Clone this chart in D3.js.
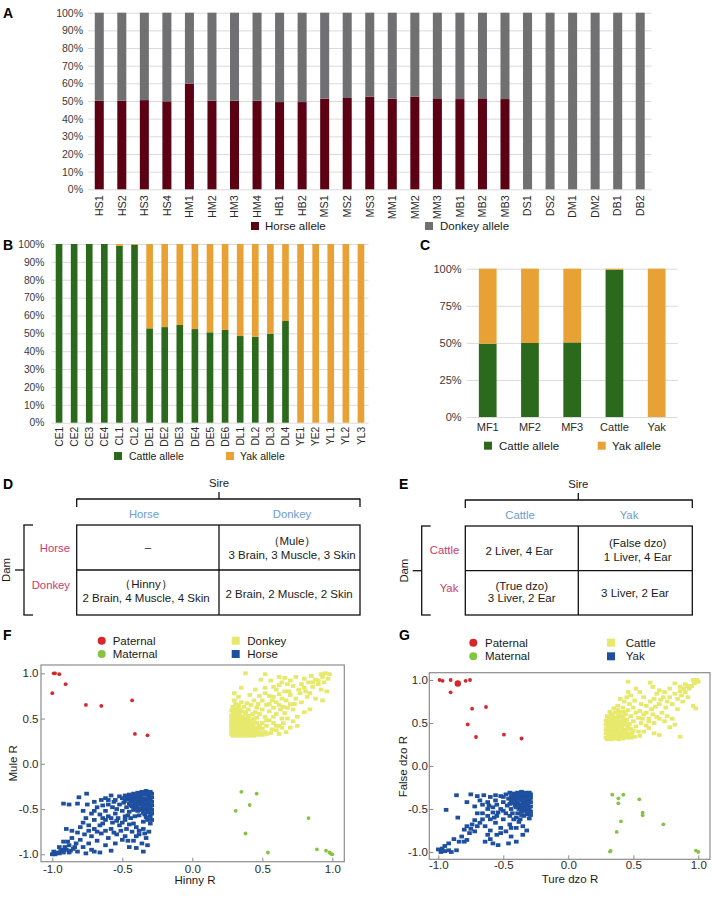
<!DOCTYPE html>
<html><head><meta charset="utf-8">
<script src="https://cdn.jsdelivr.net/npm/d3@7"></script>
<style>body{margin:0;background:#fff}svg{display:block}</style>
</head><body><svg id="c" width="718" height="898"></svg>
<script>
// ---------- Panel A ----------
const catsA = ["HS1","HS2","HS3","HS4","HM1","HM2","HM3","HM4","HB1","HB2","MS1","MS2","MS3","MM1","MM2","MM3","MB1","MB2","MB3","DS1","DS2","DM1","DM2","DB1","DB2"];
const horseA = [50.2,50.2,50.5,49.8,59.8,50.2,50.2,50.2,49.4,49.4,51.3,51.7,52.4,51.3,52.4,51.5,51.1,51.5,51.1,0,0,0,0,0,0];
const donkeyA = [49.8,49.8,49.5,50.2,40.2,49.8,49.8,49.8,50.6,50.6,48.7,48.3,47.6,48.7,47.6,48.5,48.9,48.5,48.9,100,100,100,100,100,100];
const ticksA = [0,10,20,30,40,50,60,70,80,90,100];
// ---------- Panel B ----------
const catsB = ["CE1","CE2","CE3","CE4","CL1","CL2","DE1","DE2","DE3","DE4","DE5","DE6","DL1","DL2","DL3","DL4","YE1","YE2","YL1","YL2","YL3"];
const cattleB = [100,100,100,100,99,99.5,52.8,53.5,54.7,52.4,50.6,51.9,48.5,48.1,49.8,56.9,0,0,0,0,0];
const yakB = [0,0,0,0,1,0.5,47.2,46.5,45.3,47.6,49.4,48.1,51.5,51.9,50.2,43.1,100,100,100,100,100];
const ticksB = [0,10,20,30,40,50,60,70,80,90,100];
// ---------- Panel C ----------
const catsC = ["MF1","MF2","MF3","Cattle","Yak"];
const cattleC = [49.4,49.9,50.3,99.3,0];
const yakC = [50.6,50.1,49.7,0.7,100];
const ticksC = [0,25,50,75,100];
// ---------- Panel F ----------
const fPaternal = [[-0.99,1.0],[-0.98,1.0],[-0.95,0.99],[-0.905,0.88],[-1.0,0.78],[-0.76,0.65],[-0.65,0.64],[-0.43,0.70],[-0.41,0.33],[-0.32,0.315]];
const fMaternal = [[0.35,-0.31],[0.46,-0.33],[0.31,-0.52],[0.41,-0.455],[0.38,-0.77],[0.83,-0.60],[0.54,-0.98],[0.89,-0.945],[0.955,-0.96],[0.98,-0.98],[1.0,-1.0],[0.99,-0.995]];
const fDonkey = [[0.29,0.31],[0.32,0.31],[0.35,0.31],[0.38,0.31],[0.41,0.31],[0.44,0.31],[0.47,0.32],[0.50,0.32],[0.53,0.33],
[0.30,0.35],[0.33,0.34],[0.36,0.35],[0.39,0.34],[0.42,0.35],[0.45,0.35],[0.48,0.36],
[0.29,0.39],[0.32,0.38],[0.35,0.39],[0.38,0.38],[0.41,0.39],[0.44,0.40],[0.47,0.40],
[0.30,0.43],[0.33,0.42],[0.36,0.43],[0.39,0.43],[0.42,0.44],[0.46,0.45],
[0.29,0.47],[0.32,0.47],[0.35,0.48],[0.38,0.47],[0.41,0.48],[0.44,0.50],
[0.30,0.51],[0.33,0.52],[0.36,0.52],[0.40,0.53],[0.43,0.55],
[0.29,0.56],[0.32,0.57],[0.35,0.58],[0.38,0.57],
[0.30,0.61],[0.33,0.62],[0.37,0.63],[0.31,0.66],[0.35,0.68],
[0.28,0.33],[0.31,0.33],[0.34,0.33],[0.37,0.33],[0.40,0.33],[0.43,0.33],[0.46,0.34],[0.49,0.34],[0.52,0.35],
[0.28,0.37],[0.31,0.37],[0.34,0.37],[0.37,0.37],[0.40,0.37],[0.43,0.37],[0.46,0.38],[0.50,0.39],
[0.28,0.41],[0.31,0.41],[0.34,0.41],[0.37,0.41],[0.40,0.41],[0.43,0.42],[0.48,0.42],
[0.28,0.45],[0.31,0.45],[0.34,0.45],[0.37,0.45],[0.40,0.45],[0.44,0.46],
[0.28,0.49],[0.31,0.49],[0.34,0.50],[0.37,0.50],[0.40,0.50],[0.46,0.51],
[0.28,0.53],[0.31,0.54],[0.34,0.54],[0.38,0.55],[0.45,0.57],
[0.28,0.59],[0.31,0.59],[0.34,0.60],[0.40,0.60],[0.29,0.63],[0.33,0.65],[0.39,0.67],[0.30,0.70],[0.33,0.74],[0.30,0.78],
[0.48,0.55],[0.50,0.60],[0.46,0.62],[0.42,0.65],[0.52,0.52],[0.55,0.48],[0.58,0.45],[0.53,0.42],[0.57,0.38],[0.60,0.37],[0.62,0.42],[0.65,0.45],[0.68,0.50],[0.72,0.47],[0.75,0.52],[0.80,0.57],[0.84,0.60],[0.70,0.40],
[0.55,0.58],[0.58,0.62],[0.60,0.55],[0.63,0.60],[0.55,0.66],[0.60,0.68],[0.65,0.63],[0.67,0.70],[0.70,0.66],[0.72,0.60],[0.50,0.70],[0.48,0.75],[0.52,0.78],[0.58,0.74],[0.62,0.77],[0.66,0.80],[0.70,0.76],[0.74,0.72],[0.78,0.68],[0.82,0.74],[0.76,0.82],[0.72,0.86],[0.68,0.88],[0.64,0.90],[0.58,0.85],[0.45,0.82],[0.41,0.76],[0.35,0.84],
[0.44,0.70],[0.47,0.66],[0.53,0.65],[0.57,0.70],[0.62,0.65],[0.68,0.62],[0.73,0.66],[0.64,0.72],[0.69,0.80],[0.77,0.78],[0.81,0.80],[0.86,0.90],[0.90,0.92],[0.93,0.96],[0.83,0.90],[0.78,0.88],[0.55,0.75],[0.60,0.82],[0.52,0.84],[0.56,0.92],[0.62,0.87],[0.50,0.45],[0.53,0.48],[0.58,0.52],[0.64,0.50],[0.66,0.56],[0.60,0.42],[0.64,0.40],
[0.38,1.0],[0.52,0.99],[0.49,0.93],[0.62,0.96],[0.66,0.95],[0.70,0.92],[0.74,0.96],[0.80,0.94],[0.85,0.97],[0.88,0.93],[0.92,0.99],[0.95,1.0],[0.98,0.99],[0.90,0.88],[0.94,0.90],[0.97,0.94],[0.86,0.85],[0.92,0.82],[0.96,0.80],[0.84,0.78],[0.88,0.72],[0.93,0.70],[0.80,0.84],
[0.62,0.33],[0.67,0.35],[0.56,0.34],[0.75,0.42]];
const fHorse = [[-0.30,-0.31],[-0.33,-0.30],[-0.36,-0.31],[-0.39,-0.32],[-0.42,-0.33],[-0.45,-0.34],[-0.48,-0.35],
[-0.31,-0.35],[-0.34,-0.34],[-0.37,-0.36],[-0.40,-0.36],[-0.43,-0.38],[-0.46,-0.39],[-0.50,-0.38],
[-0.30,-0.39],[-0.33,-0.40],[-0.36,-0.40],[-0.39,-0.41],[-0.42,-0.42],[-0.45,-0.44],[-0.49,-0.43],
[-0.31,-0.44],[-0.34,-0.45],[-0.37,-0.45],[-0.40,-0.46],[-0.43,-0.47],[-0.47,-0.48],[-0.52,-0.45],
[-0.30,-0.49],[-0.33,-0.50],[-0.36,-0.51],[-0.39,-0.52],[-0.42,-0.51],[-0.45,-0.53],[-0.50,-0.52],
[-0.31,-0.54],[-0.34,-0.56],[-0.38,-0.57],[-0.41,-0.58],[-0.44,-0.60],[-0.30,-0.58],[-0.32,-0.62],[-0.35,-0.64],[-0.30,-0.66],
[-0.29,-0.33],[-0.32,-0.33],[-0.35,-0.33],[-0.38,-0.34],[-0.41,-0.35],[-0.44,-0.36],[-0.47,-0.37],
[-0.29,-0.37],[-0.32,-0.38],[-0.35,-0.38],[-0.38,-0.38],[-0.41,-0.39],[-0.44,-0.41],[-0.48,-0.41],
[-0.29,-0.42],[-0.32,-0.42],[-0.35,-0.43],[-0.38,-0.43],[-0.41,-0.44],[-0.44,-0.46],
[-0.29,-0.46],[-0.32,-0.47],[-0.35,-0.48],[-0.38,-0.49],[-0.41,-0.49],
[-0.29,-0.51],[-0.32,-0.53],[-0.35,-0.54],[-0.29,-0.55],[-0.33,-0.59],[-0.29,-0.62],
[-0.55,-0.40],[-0.57,-0.48],[-0.55,-0.55],[-0.53,-0.60],[-0.48,-0.62],[-0.45,-0.67],[-0.40,-0.70],[-0.35,-0.72],[-0.31,-0.75],[-0.33,-0.82],[-0.38,-0.78],[-0.43,-0.75],[-0.47,-0.72],[-0.52,-0.68],[-0.57,-0.65],[-0.60,-0.58],[-0.62,-0.52],[-0.60,-0.45],[-0.65,-0.40],[-0.68,-0.48],[-0.66,-0.56],[-0.70,-0.62],[-0.64,-0.66],[-0.58,-0.72],[-0.54,-0.78],[-0.48,-0.80],[-0.42,-0.85],[-0.36,-0.88],[-0.45,-0.92],[-0.55,-0.88],[-0.60,-0.82],[-0.65,-0.77],[-0.70,-0.72],[-0.74,-0.68],[-0.76,-0.60],[-0.72,-0.55],[-0.78,-0.52],[-0.75,-0.45],[-0.82,-0.44],[-0.80,-0.70],[-0.77,-0.78],[-0.72,-0.80],[-0.68,-0.85],[-0.62,-0.90],[-0.58,-0.96],[-0.66,-0.98],[-0.72,-0.95],[-0.78,-0.92],[-0.83,-0.88],[-0.86,-0.82],[-0.82,-0.76],[-0.88,-0.90],[-0.90,-0.95],[-0.92,-0.86],[-0.85,-0.94],[-0.95,-0.92],[-0.97,-0.98],[-1.0,-1.0],[-0.98,-1.0],[-0.95,-0.99],[-0.92,-0.98],[-0.88,-0.98],[-0.82,-0.97],[-0.76,-0.99],[-0.70,-0.97],[-0.93,-0.95],[-0.89,-0.86],[-0.86,-0.74],[-0.90,-0.72],[-0.52,-0.36],[-0.58,-0.35],[-0.62,-0.38],[-0.70,-0.42],[-0.64,-0.60],[-0.51,-0.74],[-0.46,-0.85],[-0.40,-0.93],[-0.35,-0.97],[-0.32,-0.90],
[-0.48,-0.58],[-0.50,-0.65],[-0.54,-0.63],[-0.58,-0.60],[-0.62,-0.62],[-0.66,-0.68],[-0.68,-0.75],[-0.74,-0.74],[-0.78,-0.65],[-0.70,-0.52],[-0.64,-0.46],[-0.54,-0.50],[-0.46,-0.57],[-0.42,-0.66],[-0.38,-0.74],[-0.34,-0.77],[-0.40,-0.80],[-0.50,-0.84],[-0.56,-0.76],[-0.62,-0.74],[-0.84,-0.92],[-0.87,-0.96],[-0.91,-0.92],[-0.94,-0.96],[-0.99,-0.97],[-0.80,-0.84],[-0.74,-0.88],[-0.56,-0.42],[-0.60,-0.40],
[-0.755,-0.33],[-0.81,-0.37],[-0.92,-0.44],[-0.88,-0.45]];
// ---------- Panel G ----------
const gPaternal = [[-0.99,1.0],[-0.967,0.99],[-0.905,1.0],[-0.79,0.99],[-0.756,1.0],[-0.905,0.857],[-0.74,0.667],[-0.633,0.686],[-0.774,0.484],[-0.71,0.337],[-0.495,0.364],[-0.36,0.32]];
const gPaternalBig = [[-0.85,0.96]];
const gMaternal = [[0.338,-0.333],[0.385,-0.376],[0.423,-0.333],[0.385,-0.434],[0.546,-0.388],[0.572,-0.543],[0.572,-0.574],[0.405,-0.643],[0.372,-0.767],[0.731,-0.678],[0.326,-0.988],[0.32,-0.995],[0.982,-0.984],[1.0,-1.0]];
const gCattle = [[0.30,0.31],[0.33,0.31],[0.36,0.32],[0.39,0.31],[0.42,0.32],[0.45,0.33],[0.48,0.33],[0.51,0.34],
[0.31,0.35],[0.34,0.36],[0.37,0.35],[0.40,0.36],[0.43,0.37],[0.46,0.38],[0.49,0.38],
[0.30,0.40],[0.33,0.40],[0.36,0.41],[0.39,0.40],[0.42,0.42],[0.45,0.43],[0.48,0.43],
[0.31,0.45],[0.34,0.46],[0.37,0.45],[0.40,0.47],[0.43,0.48],[0.47,0.49],
[0.30,0.50],[0.33,0.51],[0.36,0.50],[0.39,0.52],[0.42,0.53],[0.45,0.54],[0.50,0.52],
[0.31,0.55],[0.35,0.56],[0.38,0.57],[0.41,0.58],[0.44,0.60],[0.48,0.58],
[0.33,0.60],[0.36,0.62],[0.40,0.63],[0.46,0.65],[0.52,0.62],
[0.29,0.33],[0.32,0.33],[0.35,0.34],[0.38,0.33],[0.41,0.34],[0.44,0.35],[0.47,0.36],
[0.29,0.38],[0.32,0.38],[0.35,0.38],[0.38,0.38],[0.41,0.39],[0.44,0.40],[0.50,0.41],
[0.29,0.43],[0.32,0.43],[0.35,0.43],[0.38,0.44],[0.41,0.45],[0.46,0.46],
[0.29,0.48],[0.32,0.48],[0.35,0.48],[0.38,0.49],[0.41,0.50],[0.44,0.51],
[0.29,0.53],[0.32,0.53],[0.35,0.53],[0.38,0.54],[0.42,0.56],[0.30,0.58],[0.34,0.58],[0.39,0.60],[0.43,0.63],[0.32,0.63],[0.38,0.65],[0.42,0.68],
[0.35,0.67],[0.38,0.70],[0.43,0.75],[0.45,0.80],[0.46,0.86],[0.40,0.78],[0.47,0.72],[0.50,0.68],[0.55,0.64],[0.58,0.60],[0.54,0.56],[0.56,0.50],[0.60,0.47],[0.62,0.44],[0.58,0.40],[0.66,0.38],[0.70,0.36],[0.55,0.35],[0.62,0.55],[0.65,0.60],[0.68,0.57],[0.72,0.62],[0.76,0.58],[0.80,0.55],[0.82,0.48],[0.86,0.34],[0.78,0.45],[0.60,0.70],[0.63,0.75],[0.66,0.78],[0.70,0.72],[0.73,0.80],[0.76,0.75],[0.80,0.72],[0.84,0.78],[0.87,0.82],[0.90,0.86],[0.92,0.80],[0.96,0.70],[0.98,0.67],[0.93,0.90],[0.95,0.93],[0.97,0.96],[0.99,1.0],[1.0,0.98],[0.96,1.0],[0.90,0.95],[0.86,0.92],[0.82,0.96],[0.78,0.90],[0.74,0.86],[0.70,0.88],[0.65,0.92],[0.63,0.97],[0.46,0.98],[0.68,0.84],[0.58,0.80],[0.55,0.86],[0.52,0.90],[0.75,0.68],[0.88,0.75],[0.84,0.66],
[0.52,0.46],[0.54,0.40],[0.57,0.55],[0.60,0.62],[0.64,0.66],[0.67,0.69],[0.71,0.77],[0.78,0.80],[0.82,0.84],[0.86,0.87],[0.89,0.90],[0.92,0.93],[0.56,0.72],[0.51,0.76],[0.48,0.82],[0.62,0.52],[0.66,0.50],[0.70,0.55],[0.74,0.52]];
const gYak = [[-0.30,-0.31],[-0.33,-0.31],[-0.36,-0.30],[-0.39,-0.31],[-0.42,-0.32],[-0.45,-0.31],[-0.48,-0.33],
[-0.31,-0.35],[-0.34,-0.36],[-0.37,-0.35],[-0.40,-0.36],[-0.43,-0.37],[-0.46,-0.38],[-0.50,-0.36],
[-0.30,-0.40],[-0.33,-0.41],[-0.36,-0.40],[-0.39,-0.42],[-0.42,-0.43],[-0.45,-0.44],
[-0.31,-0.45],[-0.34,-0.46],[-0.37,-0.47],[-0.40,-0.48],[-0.44,-0.50],
[-0.30,-0.50],[-0.33,-0.52],[-0.36,-0.53],[-0.39,-0.55],[-0.31,-0.56],[-0.34,-0.58],[-0.30,-0.61],
[-0.29,-0.33],[-0.32,-0.33],[-0.35,-0.33],[-0.38,-0.34],[-0.41,-0.34],[-0.44,-0.35],
[-0.29,-0.37],[-0.32,-0.38],[-0.35,-0.38],[-0.38,-0.38],[-0.41,-0.39],[-0.44,-0.40],
[-0.29,-0.42],[-0.32,-0.43],[-0.35,-0.43],[-0.38,-0.45],[-0.41,-0.46],
[-0.29,-0.47],[-0.32,-0.48],[-0.35,-0.49],[-0.38,-0.50],[-0.29,-0.53],[-0.32,-0.54],[-0.36,-0.57],[-0.29,-0.57],
[-0.52,-0.35],[-0.56,-0.34],[-0.60,-0.36],[-0.65,-0.34],[-0.70,-0.35],[-0.75,-0.33],[-0.86,-0.34],[-0.94,-0.51],[-0.85,-0.60],[-0.68,-0.40],[-0.62,-0.42],[-0.55,-0.45],[-0.52,-0.50],[-0.48,-0.55],[-0.45,-0.58],[-0.42,-0.62],[-0.38,-0.65],[-0.35,-0.70],[-0.40,-0.72],[-0.45,-0.68],[-0.50,-0.62],[-0.55,-0.58],[-0.58,-0.54],[-0.62,-0.50],[-0.66,-0.55],[-0.60,-0.62],[-0.56,-0.66],[-0.52,-0.72],[-0.48,-0.76],[-0.44,-0.82],[-0.40,-0.88],[-0.46,-0.90],[-0.55,-0.80],[-0.60,-0.75],[-0.64,-0.70],[-0.68,-0.66],[-0.72,-0.63],[-0.74,-0.68],[-0.78,-0.70],[-0.80,-0.74],[-0.76,-0.78],[-0.72,-0.76],[-0.82,-0.82],[-0.78,-0.86],[-0.84,-0.88],[-0.88,-0.85],[-0.92,-0.90],[-0.95,-0.93],[-0.97,-0.96],[-1.0,-0.97],[-0.98,-1.0],[-0.95,-0.99],[-0.92,-0.98],[-0.90,-1.0],[-0.86,-0.98],[-0.70,-0.55],[-0.64,-0.88],[-0.58,-0.90],[-0.35,-0.80],[-0.32,-0.75],[-0.72,-0.47],[-0.78,-0.42],[-0.58,-0.48],[-0.50,-0.42],[-0.56,-0.40],
[-0.47,-0.46],[-0.50,-0.52],[-0.54,-0.54],[-0.57,-0.60],[-0.62,-0.58],[-0.66,-0.62],[-0.70,-0.70],[-0.75,-0.73],[-0.66,-0.45],[-0.61,-0.46],[-0.43,-0.55],[-0.40,-0.60],[-0.37,-0.62],[-0.44,-0.72],[-0.52,-0.78],[-0.60,-0.85],[-0.54,-0.92],[-0.62,-0.80],[-0.80,-0.88]];
const scatterTicks = [-1,-0.5,0,0.5,1];

// ---------- colours ----------
const C = {horse:"#5c0014", donkey:"#707072", cattle:"#2b6a1c", yak:"#e8a134", grid:"#dadada",
  red:"#d8262b", green:"#84c441", yellow:"#e6e96c", blue:"#1f4f9f", head:"#6d9bd6", row:"#cc3a6c"};
const FONT = '"Liberation Sans", Arial, sans-serif';

const svg = d3.select("#c");
svg.append("rect").attr("width",718).attr("height",898).attr("fill","#fff");

function txt(g,x,y,s,o={}){
  return g.append("text").attr("x",x).attr("y",y).text(s)
    .attr("font-family",FONT).attr("font-size",o.fs||11.5).attr("fill",o.fill||"#1a1a1a")
    .attr("text-anchor",o.anchor||"start").attr("dy",o.dy==null?"0.35em":o.dy)
    .attr("font-weight",o.bold?"bold":"normal");
}
function letter(x,y,s){ txt(svg,x,y,s,{fs:14,bold:true,dy:0,fill:"#000"}); }

function bars(o){
  const g = svg.append("g");
  const x = d3.scaleBand().domain(o.cats).range([o.x0,o.x1]).paddingInner(o.pad).paddingOuter(o.pad/2);
  const y = d3.scaleLinear().domain([0,100]).range([o.yb,o.yt]);
  const ya = g.append("g").attr("transform",`translate(${o.x0},0)`)
    .call(d3.axisLeft(y).tickValues(o.ticks).tickFormat(d=>d+"%").tickSize(-(o.x1-o.x0)).tickPadding(o.tp));
  ya.select(".domain").remove();
  ya.attr("font-family",FONT).attr("font-size",o.fs);
  ya.selectAll("line").attr("stroke",C.grid);
  ya.selectAll("text").attr("fill","#3a3a3a");
  g.selectAll("rect.s1").data(o.cats).join("rect").attr("class","s1")
    .attr("x",d=>x(d)).attr("width",x.bandwidth())
    .attr("y",(d,i)=>y(o.s1[i])).attr("height",(d,i)=>y(0)-y(o.s1[i])).attr("fill",o.c1);
  g.selectAll("rect.s2").data(o.cats).join("rect").attr("class","s2")
    .attr("x",d=>x(d)).attr("width",x.bandwidth())
    .attr("y",(d,i)=>y(o.s1[i]+o.s2[i])).attr("height",(d,i)=>y(o.s1[i])-y(o.s1[i]+o.s2[i])).attr("fill",o.c2);
  const xa = g.append("g").attr("transform",`translate(0,${o.yb})`)
    .call(d3.axisBottom(x).tickSize(0).tickPadding(o.xp));
  xa.select(".domain").remove();
  xa.attr("font-family",FONT).attr("font-size",o.xfs||o.fs);
  xa.selectAll("text").attr("fill","#2a2a2a");
  if(o.rot){
    xa.selectAll("text").attr("transform","rotate(-90)").attr("text-anchor","end")
      .attr("x",-o.xp).attr("y",0).attr("dy","0.35em");
  }
  o.legend.forEach(l=>{
    g.append("rect").attr("x",l.x-4).attr("y",l.y-4).attr("width",8).attr("height",8).attr("fill",l.c);
    txt(g,l.tx,l.y,l.label,{fs:o.lfs});
  });
}

// Panel A
letter(3,18,"A");
bars({cats:catsA,s1:horseA,s2:donkeyA,c1:C.horse,c2:C.donkey,x0:88,x1:651.5,yb:189.3,yt:12.7,pad:0.6,
  ticks:ticksA,tp:5,fs:10.5,xfs:10.8,xp:6,rot:true,lfs:11.5,
  legend:[{x:255,y:226,tx:265,label:"Horse allele",c:C.horse},{x:429,y:226,tx:440,label:"Donkey allele",c:C.donkey}]});
// Panel B
letter(3,250,"B");
bars({cats:catsB,s1:cattleB,s2:yakB,c1:C.cattle,c2:C.yak,x0:51.5,x1:368.5,yb:422.7,yt:244,pad:0.56,
  ticks:ticksB,tp:7,fs:10.3,xp:4,rot:true,lfs:10.5,
  legend:[{x:118,y:456,tx:129,label:"Cattle allele",c:C.cattle},{x:230,y:456,tx:240,label:"Yak allele",c:C.yak}]});
// Panel C
letter(420,250,"C");
bars({cats:catsC,s1:cattleC,s2:yakC,c1:C.cattle,c2:C.yak,x0:466.6,x1:677.8,yb:417,yt:268.7,pad:0.58,
  ticks:ticksC,tp:5,fs:11,xp:6,rot:false,lfs:11.5,
  legend:[{x:488,y:445.7,tx:499,label:"Cattle allele",c:C.cattle},{x:601.7,y:445.7,tx:612,label:"Yak allele",c:C.yak}]});

// ---------- Tables D / E ----------
function table(o){
  const g = svg.append("g");
  const ln=(x1,y1,x2,y2)=>g.append("line").attr("x1",x1).attr("y1",y1).attr("x2",x2).attr("y2",y2)
    .attr("stroke","#111").attr("stroke-width",1.3);
  ln(o.l,o.by,o.r,o.by); ln(o.l,o.by-0.6,o.l,o.by+8); ln(o.r,o.by-0.6,o.r,o.by+8); ln(o.m,o.by-7,o.m,o.by);
  txt(g,o.m,o.by-16,"Sire",{anchor:"middle",fs:11.3});
  ln(o.bx,o.t,o.bx,o.b); ln(o.bx-0.6,o.t,o.bx+9,o.t); ln(o.bx-0.6,o.b,o.bx+9,o.b); ln(o.bx-9,o.mr,o.bx,o.mr);
  g.append("text").attr("transform",`translate(${o.damx},${o.mr}) rotate(-90)`).attr("text-anchor","middle")
    .attr("dy","0.35em").attr("font-family",FONT).attr("font-size",11.3).attr("fill","#1a1a1a").text("Dam");
  g.append("rect").attr("x",o.l).attr("y",o.t).attr("width",o.r-o.l).attr("height",o.b-o.t)
    .attr("fill","none").attr("stroke","#111").attr("stroke-width",1.3);
  ln(o.m,o.t,o.m,o.b); ln(o.l,o.mr,o.r,o.mr);
  o.cols.forEach(c=>txt(g,c.x,o.hy,c.s,{anchor:"middle",fill:C.head,fs:11.3}));
  o.rows.forEach(r=>txt(g,r.x,r.y,r.s,{anchor:"end",fill:C.row,fs:11.3}));
  o.cells.forEach(c=>txt(g,c.x,c.y,c.s,{anchor:"middle",fs:11.5}));
}
letter(3,489,"D");
table({l:76.7,r:360,m:219,t:525,b:615,mr:570,by:499,bx:24,damx:6,hy:514,
  cols:[{x:144,s:"Horse"},{x:292,s:"Donkey"}],
  rows:[{x:70,y:548,s:"Horse"},{x:70,y:585,s:"Donkey"}],
  cells:[{x:148,y:547,s:"–"},{x:292,y:540.7,s:"（Mule）"},{x:292,y:554.5,s:"3 Brain, 3 Muscle, 3 Skin"},
         {x:146,y:584,s:"（Hinny）"},{x:146,y:597.7,s:"2 Brain, 4 Muscle, 4 Skin"},{x:289,y:594.3,s:"2 Brain, 2 Muscle, 2 Skin"}]});
letter(399,489,"E");
table({l:465.3,r:692.3,m:578.3,t:526,b:615,mr:570.7,by:500,bx:421.7,damx:404,hy:515,
  cols:[{x:520,s:"Cattle"},{x:629,s:"Yak"}],
  rows:[{x:459.3,y:550,s:"Cattle"},{x:458.3,y:588,s:"Yak"}],
  cells:[{x:519.3,y:550.7,s:"2 Liver, 4 Ear"},{x:637.7,y:542.7,s:"(False dzo)"},{x:637.7,y:556.7,s:"1 Liver, 4 Ear"},
         {x:521.7,y:586,s:"(True dzo)"},{x:521.7,y:598.3,s:"3 Liver, 2 Ear"},{x:635,y:592.7,s:"3 Liver, 2 Ear"}]});

// ---------- Scatter F / G ----------
function scatter(o){
  const g = svg.append("g");
  const x = d3.scaleLinear().domain([-1,1]).range([o.xa,o.xb]);
  const y = d3.scaleLinear().domain([-1,1]).range([o.ya,o.yb]);
  g.append("rect").attr("x",o.bl).attr("y",o.bt).attr("width",o.br-o.bl).attr("height",o.bb-o.bt)
    .attr("fill","none").attr("stroke","#8c8c8c").attr("stroke-width",1.2);
  const xa = g.append("g").attr("transform",`translate(0,${o.bb})`)
    .call(d3.axisBottom(x).tickValues(scatterTicks).tickFormat(d=>d.toFixed(1)).tickSizeInner(-4).tickSizeOuter(0).tickPadding(o.xp));
  const ya = g.append("g").attr("transform",`translate(${o.bl},0)`)
    .call(d3.axisLeft(y).tickValues(scatterTicks).tickFormat(d=>d.toFixed(1)).tickSizeInner(-4).tickSizeOuter(0).tickPadding(o.yp));
  [xa,ya].forEach(a=>{ a.select(".domain").remove(); a.attr("font-family",FONT).attr("font-size",11.5);
    a.selectAll("line").attr("stroke","#8c8c8c"); a.selectAll("text").attr("fill","#2a2a2a"); });
  const sq=(data,c)=>g.append("g").selectAll("rect").data(data).join("rect")
    .attr("x",d=>x(d[0])-2.3).attr("y",d=>y(d[1])-1.9).attr("width",4.6).attr("height",3.8).attr("fill",c);
  sq(o.yel,C.yellow); sq(o.blu,C.blue);
  const dot=(data,c,r)=>g.append("g").selectAll("circle").data(data).join("circle")
    .attr("cx",d=>x(d[0])).attr("cy",d=>y(d[1])).attr("r",r).attr("fill",c);
  dot(o.pat,C.red,1.9); if(o.patBig) dot(o.patBig,C.red,3.2); dot(o.mat,C.green,1.9);
  txt(g,o.xt[0],o.xt[1],o.xtitle,{anchor:"middle",fs:11.5});
  g.append("text").attr("transform",`translate(${o.yt[0]},${o.yt[1]}) rotate(-90)`).attr("text-anchor","middle")
    .attr("dy","0.35em").attr("font-family",FONT).attr("font-size",11.5).attr("fill","#1a1a1a").text(o.ytitle);
  const L=o.leg;
  g.append("circle").attr("cx",L.cx).attr("cy",L.y1).attr("r",4).attr("fill",C.red);
  g.append("circle").attr("cx",L.cx).attr("cy",L.y2).attr("r",4).attr("fill",C.green);
  txt(g,L.ctx,L.y1,"Paternal"); txt(g,L.ctx,L.y2,"Maternal");
  g.append("rect").attr("x",L.sx-4).attr("y",L.y1-4).attr("width",8).attr("height",8).attr("fill",C.yellow);
  g.append("rect").attr("x",L.sx-4).attr("y",L.y2-4).attr("width",8).attr("height",8).attr("fill",C.blue);
  txt(g,L.stx,L.y1,L.s1); txt(g,L.stx,L.y2,L.s2);
}
letter(3,640,"F");
scatter({xa:52.3,xb:332.3,ya:854.3,yb:673.3,bl:41,br:344.3,bt:665,bb:861.7,xp:3.5,yp:2.5,
  yel:fDonkey,blu:fHorse,pat:fPaternal,mat:fMaternal,
  xt:[195,880],yt:[12.7,763.3],xtitle:"Hinny R",ytitle:"Mule R",
  leg:{cx:101.7,ctx:112.7,y1:640.7,y2:654,sx:235.7,stx:247.3,s1:"Donkey",s2:"Horse"}});
letter(399,640,"G");
scatter({xa:438.3,xb:698.3,ya:852,yb:680,bl:429.3,br:710,bt:672.7,bb:859.3,xp:1.5,yp:1.5,
  yel:gCattle,blu:gYak,pat:gPaternal,patBig:gPaternalBig,mat:gMaternal,
  xt:[570,879],yt:[402.7,766.7],xtitle:"Ture dzo R",ytitle:"False dzo R",
  leg:{cx:473.3,ctx:485,y1:642.7,y2:656.3,sx:611,stx:625.7,s1:"Cattle",s2:"Yak"}});
</script></body></html>
